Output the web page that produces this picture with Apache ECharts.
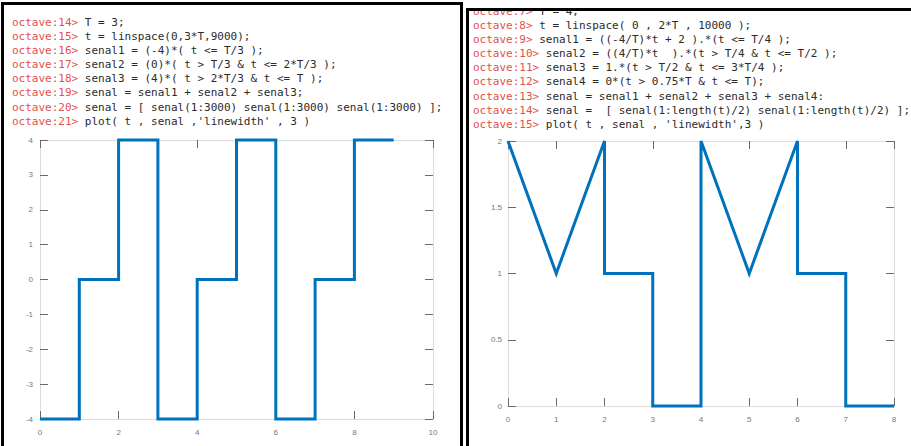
<!DOCTYPE html>
<html>
<head>
<meta charset="utf-8">
<script src="https://cdn.jsdelivr.net/npm/echarts@6/dist/echarts.min.js"></script>
<style>
  html, body { margin: 0; padding: 0; background: #fff; width: 911px; height: 446px; overflow: hidden; }
  .panel { position: absolute; box-sizing: border-box; border: 3px solid #000; border-bottom: none; overflow: hidden; background: #fff; }
  #p1 { left: 1px; top: 2px; width: 462px; height: 600px; }
  #p2 { left: 466px; top: 8px; width: 460px; height: 600px; border-right: none; }
  pre { position: absolute; margin: 0; font-family: "DejaVu Sans Mono", monospace; font-size: 11px; line-height: 14.1px; color: #2b2b2b; }
  pre .p { color: #e4504b; }
  #c1 { left: 8px; top: 11px; }
  #c2 { left: 4px; top: -6px; }
  #main { position: absolute; left: 0; top: 0; width: 911px; height: 446px; }
</style>
</head>
<body>
<div class="panel" id="p1">
<pre id="c1"><span class="p">octave:14&gt;</span> T = 3;
<span class="p">octave:15&gt;</span> t = linspace(0,3*T,9000);
<span class="p">octave:16&gt;</span> senal1 = (-4)*( t &lt;= T/3 );
<span class="p">octave:17&gt;</span> senal2 = (0)*( t &gt; T/3 &amp; t &lt;= 2*T/3 );
<span class="p">octave:18&gt;</span> senal3 = (4)*( t &gt; 2*T/3 &amp; t &lt;= T );
<span class="p">octave:19&gt;</span> senal = senal1 + senal2 + senal3;
<span class="p">octave:20&gt;</span> senal = [ senal(1:3000) senal(1:3000) senal(1:3000) ];
<span class="p">octave:21&gt;</span> plot( t , senal ,'linewidth' , 3 )</pre>
</div>
<div class="panel" id="p2">
<pre id="c2"><span class="p">octave:7&gt;</span> T = 4;
<span class="p">octave:8&gt;</span> t = linspace( 0 , 2*T , 10000 );
<span class="p">octave:9&gt;</span> senal1 = ((-4/T)*t + 2 ).*(t &lt;= T/4 );
<span class="p">octave:10&gt;</span> senal2 = ((4/T)*t  ).*(t &gt; T/4 &amp; t &lt;= T/2 );
<span class="p">octave:11&gt;</span> senal3 = 1.*(t &gt; T/2 &amp; t &lt;= 3*T/4 );
<span class="p">octave:12&gt;</span> senal4 = 0*(t &gt; 0.75*T &amp; t &lt;= T);
<span class="p">octave:13&gt;</span> senal = senal1 + senal2 + senal3 + senal4:
<span class="p">octave:14&gt;</span> senal =  [ senal(1:length(t)/2) senal(1:length(t)/2) ];
<span class="p">octave:15&gt;</span> plot( t , senal , 'linewidth',3 )</pre>
</div>
<div id="main"></div>
<script>
// left plot: square-ish wave, T = 3, three periods
var tLeft = [0, 1, 1, 2, 2, 3, 3, 4, 4, 5, 5, 6, 6, 7, 7, 8, 8, 9];
var senalLeft = [-4, -4, 0, 0, 4, 4, -4, -4, 0, 0, 4, 4, -4, -4, 0, 0, 4, 4];
var xTicksLeft = [0, 2, 4, 6, 8, 10];
var yTicksLeft = [-4, -3, -2, -1, 0, 1, 2, 3, 4];

// right plot: T = 4, two periods
var tRight = [0, 1, 2, 2, 3, 3, 4, 4, 5, 6, 6, 7, 7, 8];
var senalRight = [2, 1, 2, 1, 1, 0, 0, 2, 1, 2, 1, 1, 0, 0];
var xTicksRight = [0, 1, 2, 3, 4, 5, 6, 7, 8];
var yTicksRight = [0, 0.5, 1, 1.5, 2];

function pairs(xs, ys) {
  return xs.map(function (x, i) { return [x, ys[i]]; });
}

var boxColor = '#dcdcdc';
var tickColor = '#6a6a6a';
var labelStyle = { color: '#777', fontSize: 8, fontFamily: 'Liberation Sans, sans-serif' };

// octave-like axis: light box line, dark inner ticks
function axis(grid, pos, ticks, labels, margin) {
  return {
    type: 'value',
    gridIndex: grid,
    position: pos,
    min: ticks[0],
    max: ticks[ticks.length - 1],
    interval: ticks[1] - ticks[0],
    splitLine: { show: false },
    axisLine: { show: true, onZero: false, lineStyle: { color: boxColor, width: 1 } },
    axisTick: { show: true, inside: true, length: 8, lineStyle: { color: tickColor, width: 1 } },
    axisLabel: labels ? Object.assign({ show: true, margin: margin }, labelStyle) : { show: false }
  };
}

var myChart = echarts.init(document.getElementById('main'), null, { renderer: 'svg' });
var option = {
  animation: false,
  backgroundColor: 'transparent',
  grid: [
    { left: 40, top: 140, width: 393, height: 279 },
    { left: 508, top: 141, width: 386, height: 265 }
  ],
  xAxis: [
    axis(0, 'bottom', xTicksLeft, true, 9),
    axis(0, 'top', xTicksLeft, false),
    axis(1, 'bottom', xTicksRight, true, 9),
    axis(1, 'top', xTicksRight, false)
  ],
  yAxis: [
    axis(0, 'left', yTicksLeft, true, 7),
    axis(0, 'right', yTicksLeft, false),
    axis(1, 'left', yTicksRight, true, 6),
    axis(1, 'right', yTicksRight, false)
  ],
  series: [
    {
      type: 'line',
      xAxisIndex: 0,
      yAxisIndex: 0,
      data: pairs(tLeft, senalLeft),
      showSymbol: false,
      clip: false,
      z: 5,
      lineStyle: { color: '#0072bd', width: 3, join: 'miter' }
    },
    {
      type: 'line',
      xAxisIndex: 2,
      yAxisIndex: 2,
      data: pairs(tRight, senalRight),
      showSymbol: false,
      clip: false,
      z: 5,
      lineStyle: { color: '#0072bd', width: 3, join: 'miter' }
    }
  ]
};
myChart.setOption(option);
</script>
</body>
</html>
